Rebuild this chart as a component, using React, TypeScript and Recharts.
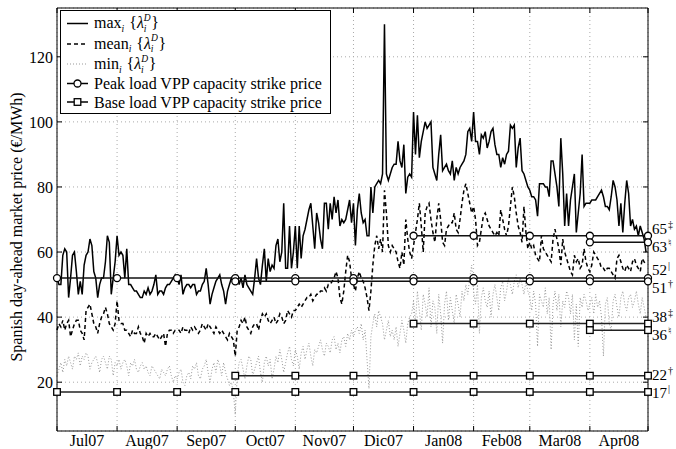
import { LineChart, Line, XAxis, YAxis, CartesianGrid } from "recharts";

const FONT = '"Liberation Serif", "Times New Roman", serif';

// layout of the plot box (px)
const W = 676;
const H = 449;
const PLOT_TOP = 8;
const PLOT_BOTTOM = 431;
const PLOT_LEFT = 57;
const PLOT_RIGHT = 648;
const END_DAY = 305;
const PX_PER_DAY = (PLOT_RIGHT - PLOT_LEFT) / END_DAY;

// day index (0 = 1 Jul 2007) of each month start, last one = 1 May 2008
const monthStarts = [0, 31, 62, 92, 123, 153, 184, 215, 244, 275, 305];
const monthLabels = ["Jul07", "Aug07", "Sep07", "Oct07", "Nov07", "Dic07", "Jan08", "Feb08", "Mar08", "Apr08"];
const yTicks = [20, 40, 60, 80, 100, 120];

// daily max of the day-ahead price, Jul07 .. Apr08 (one month per row)
const maxPrice = [
  52, 50, 50, 59, 61, 60, 46, 52, 59, 60, 54, 47, 51, 47, 56, 59, 60, 64, 62, 54, 52, 46, 50, 52, 52, 57, 65, 63, 47, 52, 57,
  65, 59, 60, 59, 52, 61, 50, 50, 49, 48, 48, 47, 46, 46, 48, 47, 49, 47, 48, 50, 53, 47, 48, 48, 47, 49, 50, 50, 51, 52, 53,
  52, 50, 53, 47, 49, 50, 50, 49, 50, 50, 47, 48, 48, 50, 51, 55, 50, 44, 47, 49, 51, 52, 53, 50, 48, 44, 48, 50, 52, 51,
  51, 53, 50, 52, 49, 53, 50, 49, 48, 47, 52, 58, 52, 50, 56, 61, 51, 58, 54, 56, 55, 62, 64, 57, 60, 75, 55, 55, 68, 55, 60,
  68, 55, 68, 58, 65, 67, 70, 73, 75, 68, 61, 72, 69, 64, 61, 75, 75, 67, 75, 70, 77, 72, 76, 68, 70, 69, 70, 73, 76, 69,
  75, 62, 73, 78, 72, 69, 70, 65, 65, 80, 72, 80, 81, 82, 81, 84, 130, 84, 82, 84, 86, 87, 87, 94, 88, 86, 93, 78, 83, 84, 83,
  103, 90, 102, 89, 94, 97, 100, 98, 99, 100, 86, 84, 82, 90, 96, 85, 86, 87, 85, 84, 88, 82, 86, 84, 86, 87, 88, 90, 97, 98, 94,
  103, 94, 94, 90, 96, 95, 97, 92, 94, 97, 98, 93, 90, 90, 86, 89, 87, 90, 91, 99, 98, 99, 86, 92, 95, 85, 84, 82, 80,
  79, 77, 77, 76, 71, 81, 81, 81, 80, 80, 77, 88, 88, 84, 80, 74, 95, 84, 68, 78, 68, 76, 80, 84, 66, 72, 78, 90, 74, 75, 75,
  75, 76, 76, 76, 77, 78, 79, 77, 74, 74, 73, 77, 82, 80, 76, 68, 75, 66, 75, 82, 78, 68, 70, 67, 68, 65, 68, 66, 64, 60,
];

// daily mean
const meanPrice = [
  36, 38, 37, 39, 36, 38, 39, 34, 36, 38, 39, 39, 36, 35, 33, 42, 43, 44, 41, 38, 37, 35, 38, 40, 41, 43, 41, 38, 37, 36, 38,
  45, 39, 38, 38, 36, 36, 35, 34, 36, 35, 35, 37, 35, 34, 32, 35, 34, 35, 34, 34, 35, 34, 33, 34, 35, 31, 35, 36, 36, 35, 36,
  36, 36, 35, 37, 36, 36, 35, 37, 36, 37, 36, 35, 36, 38, 37, 36, 38, 37, 36, 35, 37, 36, 35, 36, 35, 34, 33, 35, 34, 33,
  28, 36, 37, 39, 38, 40, 37, 36, 35, 37, 38, 38, 36, 39, 41, 40, 41, 39, 38, 39, 40, 38, 39, 41, 40, 38, 39, 42, 41, 40, 42,
  42, 43, 44, 43, 44, 45, 46, 46, 47, 45, 46, 47, 47, 48, 48, 49, 48, 50, 50, 51, 52, 54, 52, 46, 44, 48, 54, 59, 57, 52,
  50, 48, 52, 54, 52, 51, 49, 46, 42, 48, 56, 62, 65, 61, 64, 60, 79, 72, 62, 60, 62, 61, 60, 57, 55, 60, 56, 70, 64, 60, 58,
  62, 66, 70, 75, 68, 60, 72, 74, 75, 70, 66, 63, 70, 75, 70, 63, 62, 67, 68, 69, 69, 72, 67, 66, 70, 75, 79, 81, 78, 75, 72,
  74, 70, 62, 63, 67, 71, 72, 70, 68, 67, 66, 65, 66, 65, 73, 70, 67, 65, 68, 74, 80, 77, 72, 68, 66, 63, 74, 66, 61,
  63, 61, 62, 59, 58, 57, 65, 61, 60, 59, 58, 57, 64, 67, 64, 61, 56, 64, 60, 58, 56, 54, 53, 59, 57, 58, 55, 56, 61, 57, 55,
  54, 56, 60, 59, 58, 57, 55, 55, 54, 55, 55, 54, 53, 52, 58, 59, 57, 55, 54, 56, 55, 54, 57, 58, 56, 55, 54, 58, 57, 56,
];

// daily min
const minPrice = [
  22, 24, 26, 23, 27, 25, 28, 26, 24, 28, 27, 29, 25, 28, 27, 29, 28, 24, 26, 27, 28, 26, 23, 27, 28, 26, 24, 28, 27, 22, 26,
  25, 27, 24, 26, 27, 25, 22, 26, 25, 27, 24, 23, 25, 26, 24, 25, 23, 22, 25, 24, 23, 22, 21, 24, 23, 22, 24, 25, 22, 20, 22,
  21, 23, 24, 20, 19, 22, 23, 21, 25, 24, 26, 22, 21, 24, 25, 27, 23, 20, 24, 26, 23, 27, 25, 22, 26, 23, 21, 19, 20, 17,
  10, 22, 26, 27, 24, 21, 25, 28, 27, 22, 24, 26, 28, 23, 20, 26, 28, 25, 27, 21, 24, 28, 26, 30, 27, 23, 26, 29, 31, 27, 25,
  30, 28, 24, 29, 31, 27, 30, 32, 28, 25, 30, 29, 31, 33, 30, 28, 32, 31, 29, 33, 34, 30, 32, 29, 33, 34, 31, 35, 33, 36,
  34, 36, 37, 35, 38, 33, 36, 27, 18, 34, 38, 41, 37, 42, 40, 38, 33, 36, 39, 34, 36, 33, 37, 31, 35, 39, 36, 32, 38, 40, 41,
  45, 38, 48, 42, 36, 47, 44, 40, 49, 37, 45, 43, 35, 47, 41, 32, 44, 48, 39, 46, 42, 38, 47, 44, 40, 48, 45, 50, 47, 52, 56,
  48, 44, 50, 35, 46, 49, 45, 43, 48, 40, 47, 50, 46, 42, 49, 51, 45, 48, 52, 50, 47, 51, 53, 49, 52, 50, 47, 51, 48,
  46, 42, 48, 44, 31, 47, 45, 43, 49, 41, 46, 30, 44, 48, 42, 47, 37, 45, 43, 48, 46, 41, 47, 33, 44, 31, 46, 43, 47, 45, 42,
  44, 46, 41, 47, 43, 45, 40, 28, 44, 46, 38, 36, 45, 47, 43, 40, 46, 48, 44, 42, 46, 47, 43, 45, 48, 44, 41, 46, 43, 40,
];

// strike prices and the month they start from (index into monthStarts)
const peakStrikes = [52, 51, 65, 63];
const baseStrikes = [17, 22, 38, 36];
const strikeFrom = [0, 3, 6, 9];
const strikeTags = ["|", "\u2020", "\u2021", "\u266E"];

// vertical nudge of the right-hand labels so they don't collide
const peakLabelShift = [-8, 6.5, -7, 4.5];
const baseLabelShift = [1, -1, -7, 4.5];

const series = maxPrice.map((v, i) => ({ day: i, max: v, mean: meanPrice[i], min: minPrice[i] }));

const strikeData = (value: number, from: number) =>
  monthStarts.slice(from).map((d) => ({ day: d, price: value }));

function MonthTick(props: any) {
  const { x, payload } = props;
  const i = monthStarts.indexOf(payload.value);
  const next = monthStarts[i + 1];
  const label = monthLabels[i];
  const mid = next !== undefined ? x + ((next - payload.value) / 2) * PX_PER_DAY : x;
  return (
    <g>
      <line x1={x} x2={x} y1={PLOT_BOTTOM} y2={PLOT_BOTTOM - 5} stroke="#000" />
      <line x1={x} x2={x} y1={PLOT_TOP} y2={PLOT_TOP + 5} stroke="#000" />
      {label && (
        <text x={mid} y={446} textAnchor="middle" fontFamily={FONT} fontSize={16} fill="#000">
          {label}
        </text>
      )}
    </g>
  );
}

function PriceTick(props: any) {
  const { y, payload } = props;
  return (
    <g>
      <line x1={PLOT_LEFT} x2={PLOT_LEFT + 5} y1={y} y2={y} stroke="#000" />
      <line x1={PLOT_RIGHT} x2={PLOT_RIGHT - 5} y1={y} y2={y} stroke="#000" />
      <text x={53} y={y + 6} textAnchor="end" fontFamily={FONT} fontSize={16} fill="#000">
        {payload.value}
      </text>
    </g>
  );
}

function makeDot(shape: "circle" | "square", value: number, tag: string, shift: number) {
  return (props: any) => {
    const { cx, cy, index, payload } = props;
    const last = payload.day === END_DAY;
    return (
      <g key={`${shape}-${value}-${index}`}>
        {shape === "circle" ? (
          <circle cx={cx} cy={cy} r={3.5} fill="#fff" stroke="#000" strokeWidth={1.3} />
        ) : (
          <rect x={cx - 3.3} y={cy - 3.3} width={6.6} height={6.6} fill="#fff" stroke="#000" strokeWidth={1.3} />
        )}
        {last && (
          <>
            <text x={cx + 4} y={cy + shift + 5} fontFamily={FONT} fontSize={15} fill="#000">
              {value}
            </text>
            <text x={cx + 20} y={cy + shift - 1} fontFamily={FONT} fontSize={10} fill="#000">
              {tag}
            </text>
          </>
        )}
      </g>
    );
  };
}

function MathLabel({ x, y, op }: { x: number; y: number; op: string }) {
  return (
    <text x={x} y={y} fontFamily={FONT} fontSize={16} fill="#000">
      {op}
      <tspan fontSize={9.5} fontStyle="italic" dy={3.5}>i</tspan>
      <tspan dy={-3.5} dx={5}>{"{"}</tspan>
      <tspan fontStyle="italic">λ</tspan>
      <tspan fontSize={9.5} fontStyle="italic" dy={-7.5}>D</tspan>
      <tspan fontSize={9.5} fontStyle="italic" dx={-7} dy={11}>i</tspan>
      <tspan dx={5} dy={-3.5}>{"}"}</tspan>
    </text>
  );
}

function Overlay() {
  return (
    <svg width={W} height={H} style={{ position: "absolute", left: 0, top: 0, pointerEvents: "none" }}>
      <text
        x={22}
        y={227}
        transform="rotate(-90 22 227)"
        textAnchor="middle"
        fontFamily={FONT}
        fontSize={16}
        fill="#000"
      >
        Spanish day-ahead market price (€/MWh)
      </text>
      <rect x={60.5} y={10.5} width={270} height={103} fill="#fff" stroke="#000" strokeWidth={1} />
      <line x1={67} x2={88} y1={23.5} y2={23.5} stroke="#000" strokeWidth={1.5} />
      <MathLabel x={94} y={28} op="max" />
      <line x1={67} x2={88} y1={44} y2={44} stroke="#000" strokeWidth={1.5} strokeDasharray="4 3" />
      <MathLabel x={94} y={48.5} op="mean" />
      <line x1={67} x2={88} y1={64} y2={64} stroke="#999" strokeWidth={1} strokeDasharray="1 2" />
      <MathLabel x={94} y={69} op="min" />
      <line x1={67} x2={88} y1={83.5} y2={83.5} stroke="#000" strokeWidth={1.5} />
      <circle cx={77.5} cy={83.5} r={3.5} fill="#fff" stroke="#000" strokeWidth={1.3} />
      <text x={94} y={89} fontFamily={FONT} fontSize={16} fill="#000">
        Peak load VPP capacity strike price
      </text>
      <line x1={67} x2={88} y1={102} y2={102} stroke="#000" strokeWidth={1.5} />
      <rect x={74.2} y={98.7} width={6.6} height={6.6} fill="#fff" stroke="#000" strokeWidth={1.3} />
      <text x={94} y={107.5} fontFamily={FONT} fontSize={16} fill="#000">
        Base load VPP capacity strike price
      </text>
    </svg>
  );
}

export default function App() {
  return (
    <div style={{ position: "absolute", left: 0, top: 0, width: W, height: H, background: "#fff" }}>
      <LineChart width={W} height={H} data={series} margin={{ top: PLOT_TOP - 1, right: 0, bottom: 0, left: 0 }}>
        <CartesianGrid stroke="#aaa" strokeDasharray="1 3" />
        <XAxis
          dataKey="day"
          type="number"
          domain={[0, END_DAY]}
          ticks={monthStarts}
          interval={0}
          height={H - PLOT_BOTTOM}
          axisLine={{ stroke: "#000" }}
          tickLine={false}
          tick={<MonthTick />}
        />
        <XAxis
          xAxisId="top"
          orientation="top"
          type="number"
          domain={[0, END_DAY]}
          height={1}
          tick={false}
          tickLine={false}
          axisLine={{ stroke: "#000" }}
        />
        <YAxis
          type="number"
          domain={[5, 135]}
          ticks={yTicks}
          interval={0}
          width={PLOT_LEFT}
          axisLine={{ stroke: "#000" }}
          tickLine={false}
          tick={<PriceTick />}
        />
        <YAxis
          yAxisId="right"
          orientation="right"
          type="number"
          domain={[5, 135]}
          width={W - PLOT_RIGHT}
          tick={false}
          tickLine={false}
          axisLine={{ stroke: "#000" }}
        />
        <Line dataKey="min" stroke="#999" strokeWidth={1} strokeDasharray="1 2" dot={false} isAnimationActive={false} />
        <Line dataKey="mean" stroke="#000" strokeWidth={1.5} strokeDasharray="4 3" dot={false} isAnimationActive={false} />
        <Line dataKey="max" stroke="#000" strokeWidth={1.5} dot={false} isAnimationActive={false} />
        {baseStrikes.map((v, i) => (
          <Line
            key={`base-${v}`}
            data={strikeData(v, strikeFrom[i])}
            dataKey="price"
            stroke="#222"
            strokeWidth={1.5}
            dot={makeDot("square", v, strikeTags[i], baseLabelShift[i])}
            isAnimationActive={false}
          />
        ))}
        {peakStrikes.map((v, i) => (
          <Line
            key={`peak-${v}`}
            data={strikeData(v, strikeFrom[i])}
            dataKey="price"
            stroke="#111"
            strokeWidth={1.5}
            dot={makeDot("circle", v, strikeTags[i], peakLabelShift[i])}
            isAnimationActive={false}
          />
        ))}
      </LineChart>
      <Overlay />
    </div>
  );
}
